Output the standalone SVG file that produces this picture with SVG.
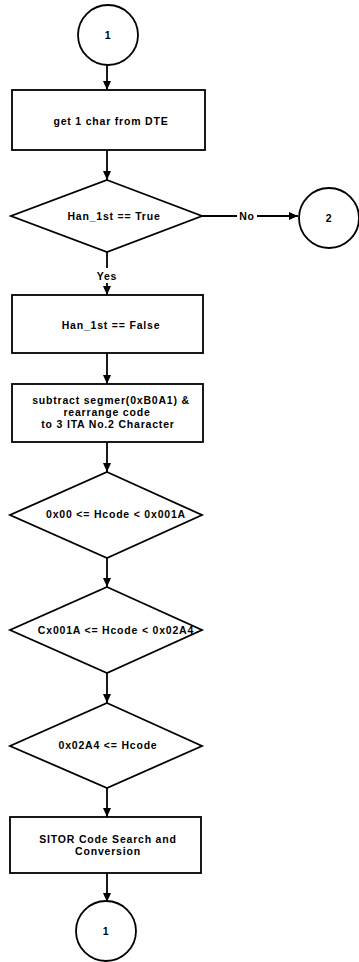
<svg xmlns="http://www.w3.org/2000/svg" width="359" height="962" viewBox="0 0 359 962">
<style>
.s{fill:#fff;stroke:#000;stroke-width:1.8}
.c{fill:none;stroke:#000;stroke-width:1.8}
text{font-family:"Liberation Sans",Arial,sans-serif;font-size:10.5px;font-weight:bold;fill:#000;text-anchor:middle;letter-spacing:0.8px}
</style>
<defs>
<marker id="ah" markerWidth="10" markerHeight="10" refX="9" refY="5" orient="auto" markerUnits="userSpaceOnUse">
<path d="M0,1 L9,5 L0,9 Z" fill="#000"/>
</marker>
</defs>
<rect width="359" height="962" fill="#fff"/>
<g id="connectors">
<line class="c" x1="107" y1="65" x2="107" y2="90" marker-end="url(#ah)"/>
<line class="c" x1="107" y1="150" x2="107" y2="180" marker-end="url(#ah)"/>
<line class="c" x1="202" y1="216" x2="298" y2="216" marker-end="url(#ah)"/>
<rect x="237" y="210" width="20" height="12" fill="#fff"/>
<text x="247" y="220">No</text>
<line class="c" x1="107" y1="252" x2="107" y2="268"/>
<text x="107" y="280">Yes</text>
<line class="c" x1="107" y1="283" x2="107" y2="295" marker-end="url(#ah)"/>
<line class="c" x1="107" y1="353" x2="107" y2="384" marker-end="url(#ah)"/>
<line class="c" x1="107" y1="442" x2="107" y2="472" marker-end="url(#ah)"/>
<line class="c" x1="107" y1="558" x2="107" y2="587" marker-end="url(#ah)"/>
<line class="c" x1="107" y1="673" x2="107" y2="703" marker-end="url(#ah)"/>
<line class="c" x1="107" y1="788" x2="107" y2="817" marker-end="url(#ah)"/>
<line class="c" x1="107" y1="873" x2="107" y2="902" marker-end="url(#ah)"/>
</g>
<g id="start1">
<circle class="s" cx="108" cy="35" r="30"/>
<text x="108" y="39">1</text>
</g>
<g id="getChar">
<rect class="s" x="12" y="90" width="193" height="60"/>
<text x="111" y="125">get 1 char from DTE</text>
</g>
<g id="hanTrue">
<polygon class="s" points="107,180 202,216 107,252 11,216"/>
<text x="114" y="220">Han_1st == True</text>
</g>
<g id="conn2">
<circle class="s" cx="329" cy="218" r="30"/>
<text x="329" y="222">2</text>
</g>
<g id="hanFalse">
<rect class="s" x="12" y="295" width="191" height="58"/>
<text x="111" y="329">Han_1st == False</text>
</g>
<g id="subtract">
<rect class="s" x="12" y="384" width="191" height="58"/>
<text x="111" y="404">subtract segmer(0xB0A1) &amp;</text>
<text x="107" y="416">rearrange code</text>
<text x="108" y="428">to 3 ITA No.2 Character</text>
</g>
<g id="range1">
<polygon class="s" points="107,472 202,515 107,558 10,515"/>
<text x="116" y="518">0x00 &lt;= Hcode &lt; 0x001A</text>
</g>
<g id="range2">
<polygon class="s" points="107,587 202,630 107,673 10,630"/>
<text x="116" y="634">Cx001A &lt;= Hcode &lt; 0x02A4</text>
</g>
<g id="range3">
<polygon class="s" points="107,703 202,746 107,788 10,746"/>
<text x="108" y="749">0x02A4 &lt;= Hcode</text>
</g>
<g id="sitor">
<rect class="s" x="10" y="817" width="191" height="56"/>
<text x="108" y="843">SITOR Code Search and</text>
<text x="108" y="855">Conversion</text>
</g>
<g id="end1">
<circle class="s" cx="106" cy="931" r="30"/>
<text x="106" y="935">1</text>
</g>
</svg>
